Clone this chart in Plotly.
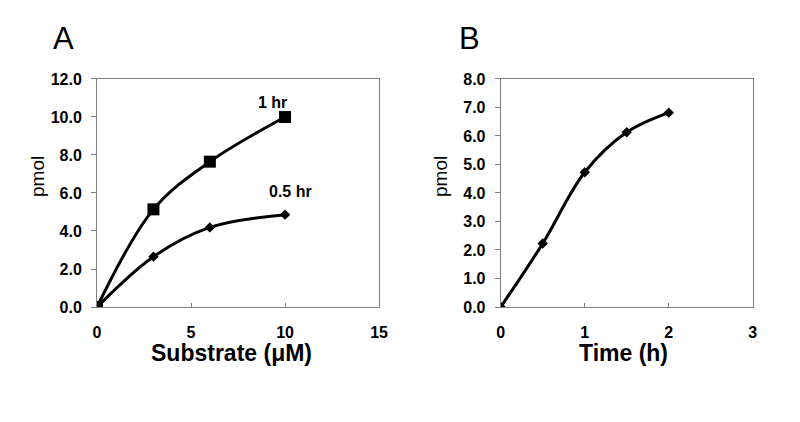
import plotly.graph_objects as go

# Panel A data
substrate = [0, 3, 6, 10]
pmol_1hr = [0.0, 5.14, 7.65, 10.0]
pmol_05hr = [0.0, 2.65, 4.19, 4.86]
a_yticks = [0, 2, 4, 6, 8, 10, 12]
a_xticks = [0, 5, 10, 15]

# Panel B data
time_h = [0, 0.5, 1, 1.5, 2]
pmol_time = [0.0, 2.23, 4.73, 6.13, 6.82]
b_yticks = [0, 1, 2, 3, 4, 5, 6, 7, 8]
b_xticks = [0, 1, 2, 3]

FONT = "Liberation Sans, Arial, sans-serif"
AXCOL = "#808080"

fig = go.Figure()
fig.add_trace(go.Scatter(x=substrate, y=pmol_05hr, mode="lines+markers",
                         line=dict(color="black", width=3, shape="spline"),
                         marker=dict(symbol="diamond", size=8, color="black"),
                         xaxis="x", yaxis="y", showlegend=False))
fig.add_trace(go.Scatter(x=substrate, y=pmol_1hr, mode="lines+markers",
                         line=dict(color="black", width=3, shape="spline"),
                         marker=dict(symbol="square", size=12, color="black"),
                         xaxis="x", yaxis="y", showlegend=False))
fig.add_trace(go.Scatter(x=time_h, y=pmol_time, mode="lines+markers",
                         line=dict(color="black", width=3, shape="spline"),
                         marker=dict(symbol="diamond", size=8, color="black"),
                         xaxis="x2", yaxis="y2", showlegend=False))

tickfont = dict(family=FONT, size=16, color="black", weight="bold")
common = dict(showgrid=False, zeroline=False, showline=True, linecolor=AXCOL,
              linewidth=1, mirror=True, tickfont=tickfont, tickcolor=AXCOL,
              automargin=False)

fig.update_layout(
    width=800, height=422,
    margin=dict(l=0, r=0, t=0, b=0, autoexpand=False),
    paper_bgcolor="white", plot_bgcolor="white",
    xaxis=dict(domain=[0.1213, 0.4738], range=[0, 15], tickvals=a_xticks,
               ticks="inside", ticklen=4, anchor="y", ticklabelstandoff=11, **common),
    yaxis=dict(domain=[0.2725, 0.8128], range=[0, 12], tickvals=a_yticks,
               tickformat=".1f", ticks="outside", ticklen=5, anchor="x",
               ticklabelstandoff=6, **common),
    xaxis2=dict(domain=[0.6259, 0.9409], range=[0, 3], tickvals=b_xticks,
                ticks="inside", ticklen=4, anchor="y2", ticklabelstandoff=11, **common),
    yaxis2=dict(domain=[0.2725, 0.8128], range=[0, 8], tickvals=b_yticks,
                tickformat=".1f", ticks="outside", ticklen=5, anchor="x2",
                ticklabelstandoff=6, **common),
)

ann = [
    dict(text="A", x=63, y=38, size=31, weight="normal"),
    dict(text="B", x=469, y=38, size=31, weight="normal"),
    dict(text="Substrate (μM)", x=232, y=353, size=23, weight="bold"),
    dict(text="Time (h)", x=623, y=353, size=23, weight="bold"),
]
for a in ann:
    fig.add_annotation(text=a["text"], xref="paper", yref="paper",
                       x=a["x"] / 800, y=1 - a["y"] / 422, showarrow=False,
                       xanchor="center", yanchor="middle",
                       font=dict(family=FONT, size=a["size"], color="black", weight=a["weight"]))
for xpix in (38, 441):
    fig.add_annotation(text="pmol", xref="paper", yref="paper",
                       x=xpix / 800, y=1 - 177 / 422, showarrow=False, textangle=-90,
                       xanchor="center", yanchor="middle",
                       font=dict(family=FONT, size=19, color="black"))

fig.add_annotation(text="1 hr", x=9.35, y=10.75, xref="x", yref="y", showarrow=False,
                   font=dict(family=FONT, size=16, color="black", weight="bold"))
fig.add_annotation(text="0.5 hr", x=10.3, y=6.1, xref="x", yref="y", showarrow=False,
                   font=dict(family=FONT, size=16, color="black", weight="bold"))

fig.write_html("out.html", config={"displayModeBar": False},
               post_script="document.body.style.margin='0';")
